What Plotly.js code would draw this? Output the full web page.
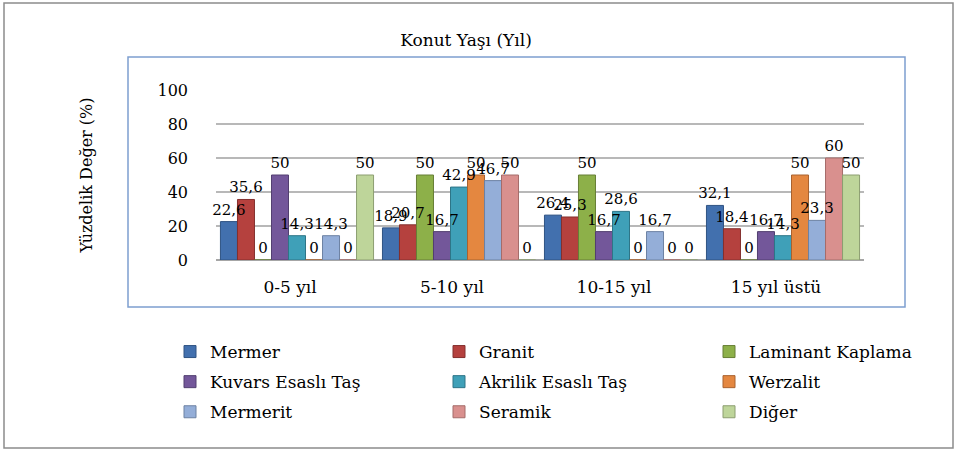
<!DOCTYPE html>
<html>
<head>
<meta charset="utf-8">
<script src="https://cdn.plot.ly/plotly-3.0.1.min.js"></script>
<style>html,body{margin:0;padding:0;background:#fff;}#chart{width:959px;height:451px;}</style>
</head>
<body>
<div id="chart"></div>
<script>
var categories = ['0-5 yıl', '5-10 yıl', '10-15 yıl', '15 yıl üstü'];
var seriesNames = ['Mermer', 'Granit', 'Laminant Kaplama', 'Kuvars Esaslı Taş', 'Akrilik Esaslı Taş', 'Werzalit', 'Mermerit', 'Seramik', 'Diğer'];
var mermer   = [22.6, 18.9, 26.4, 32.1];
var granit   = [35.6, 20.7, 25.3, 18.4];
var laminant = [0, 50, 50, 0];
var kuvars   = [50, 16.7, 16.7, 16.7];
var akrilik  = [14.3, 42.9, 28.6, 14.3];
var werzalit = [0, 50, 0, 50];
var mermerit = [14.3, 46.7, 16.7, 23.3];
var seramik  = [0, 50, 0, 60];
var diger    = [50, 0, 0, 50];
var yTicks = [0, 20, 40, 60, 80, 100];

var seriesValues = [mermer, granit, laminant, kuvars, akrilik, werzalit, mermerit, seramik, diger];
var colors = ['#4270AE', '#B5413E', '#8DB049', '#73579A', '#3FA0B8', '#E48740', '#94AED8', '#D9908E', '#BED59A'];
var edges  = ['#2F5383', '#84302E', '#677F36', '#523F70', '#2E7587', '#A9622F', '#6D82A3', '#A56C6A', '#8C9E71'];
var legendIds = ['legend', 'legend2', 'legend3'];
var FONT = 'DejaVu Serif, serif';

function fmt(v) { return String(v).replace('.', ','); }

// visible bars (no text)
var barTraces = seriesValues.map(function (vals, i) {
  return {
    type: 'bar',
    name: seriesNames[i],
    x: categories,
    y: vals,
    marker: {color: colors[i], line: {color: edges[i], width: 1}},
    legend: legendIds[i % 3],
    legendgroup: 'g' + i,
    hoverinfo: 'x+y+name'
  };
});

// label-only bars on an overlaid subplot so all labels sit above all bars
var labelTraces = seriesValues.map(function (vals, i) {
  return {
    type: 'bar',
    name: seriesNames[i],
    x: categories,
    y: vals,
    xaxis: 'x2',
    yaxis: 'y2',
    text: vals.map(fmt),
    textposition: 'outside',
    cliponaxis: false,
    constraintext: 'none',
    textfont: {family: FONT, size: 15, color: '#000'},
    marker: {color: 'rgba(0,0,0,0)', line: {width: 0}},
    showlegend: false,
    hoverinfo: 'skip'
  };
});

var L = 216;
function px2x(px) { return (px - L) / 648; }
function px2y(py) { return (260 - py) / 170; }

var legendBase = {
  orientation: 'v',
  traceorder: 'grouped',
  tracegroupgap: 5,
  font: {family: FONT, size: 17, color: '#000'},
  bgcolor: 'rgba(0,0,0,0)',
  borderwidth: 0,
  xanchor: 'left',
  yanchor: 'top',
  y: px2y(334)
};
function mkLegend(px) {
  var o = JSON.parse(JSON.stringify(legendBase));
  o.x = px2x(px);
  return o;
}

var layout = {
  width: 959,
  height: 451,
  margin: {l: L, r: 959 - L - 648, t: 90, b: 191},
  paper_bgcolor: '#fff',
  plot_bgcolor: '#fff',
  barmode: 'group',
  bargap: 0.055,
  bargroupgap: 0,
  showlegend: true,
  title: {
    text: 'Konut Yaşı (Yıl)',
    font: {family: FONT, size: 17, color: '#000'},
    x: 466 / 959, xref: 'container', xanchor: 'center',
    y: 1 - 40 / 451, yref: 'container', yanchor: 'middle'
  },
  xaxis: {
    type: 'category',
    tickfont: {family: FONT, size: 17, color: '#000'},
    showgrid: false,
    showline: false,
    ticks: '',
    ticklabelstandoff: 15,
    ticklabelshift: -7,
    range: [-0.5, 3.5]
  },
  yaxis: {
    range: [0, 100],
    tickvals: yTicks,
    ticktext: yTicks.map(String),
    tickfont: {family: FONT, size: 16, color: '#000'},
    showgrid: true,
    gridcolor: '#b8b8b8',
    gridwidth: 2,
    zeroline: true,
    zerolinecolor: '#a6a6a6',
    zerolinewidth: 2,
    showline: false,
    ticks: '',
    ticklabelstandoff: 27,
    title: {text: 'Yüzdelik Değer (%)', font: {family: FONT, size: 16, color: '#000'}, standoff: 60}
  },
  xaxis2: {type: 'category', overlaying: 'x', matches: 'x', visible: false, range: [-0.5, 3.5]},
  yaxis2: {overlaying: 'y', matches: 'y', visible: false, range: [0, 100]},
  legend: mkLegend(170),
  legend2: mkLegend(439),
  legend3: mkLegend(709),
  shapes: [
    {type: 'rect', xref: 'paper', yref: 'paper', x0: px2x(4), x1: px2x(953), y0: px2y(448), y1: px2y(3),
     line: {color: '#8c8c8c', width: 1.5}, fillcolor: 'rgba(0,0,0,0)', layer: 'below'},
    {type: 'rect', xref: 'paper', yref: 'paper', x0: px2x(128), x1: px2x(905), y0: px2y(307), y1: px2y(57),
     line: {color: '#7E9FD0', width: 1.5}, fillcolor: 'rgba(0,0,0,0)', layer: 'below'}
  ]
};

Plotly.newPlot('chart', barTraces.concat(labelTraces), layout, {displayModeBar: false, responsive: false});
</script>
</body>
</html>
